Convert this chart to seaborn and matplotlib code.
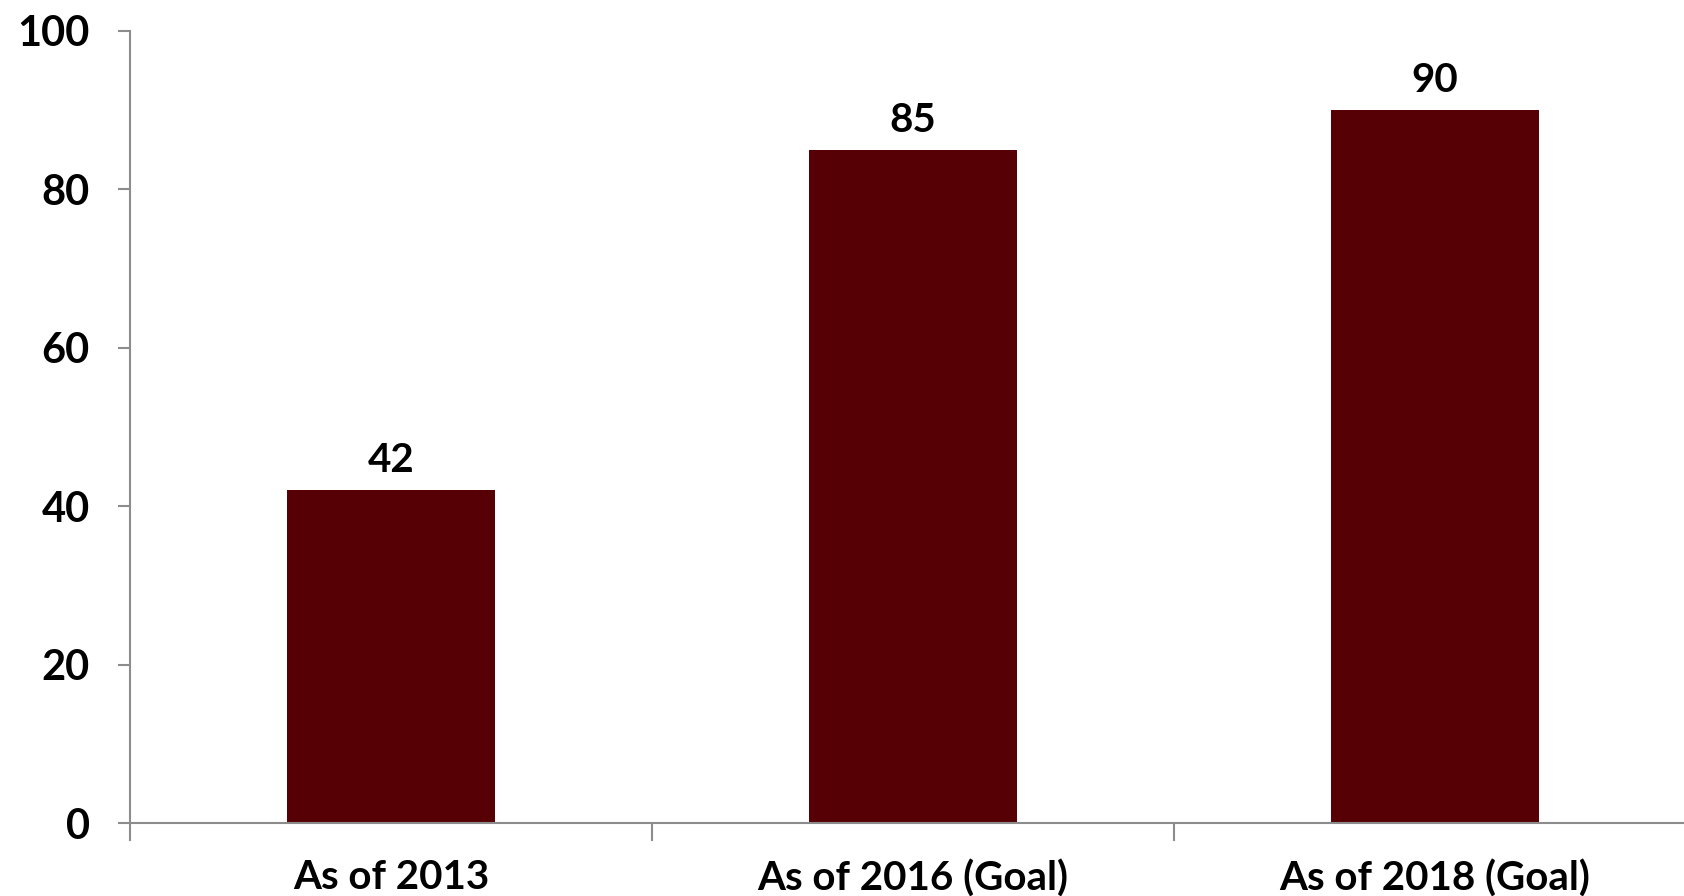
import matplotlib
matplotlib.use("Agg")
import matplotlib.pyplot as plt
import seaborn as sns
import pandas as pd
from matplotlib.ticker import FixedLocator

categories = ["As of 2013", "As of 2016 (Goal)", "As of 2018 (Goal)"]
values = [42, 85, 90]
yticks = [0, 20, 40, 60, 80, 100]

df = pd.DataFrame({"cat": categories, "val": values})

sns.set_theme(style="white")
plt.rcParams["font.family"] = ["Lato", "DejaVu Sans"]
plt.rcParams["text.color"] = "black"
plt.rcParams["xtick.labelcolor"] = "black"
plt.rcParams["ytick.labelcolor"] = "black"

fig = plt.figure(figsize=(16.84, 8.96), dpi=100)
ax = fig.add_axes([130 / 1684, 73 / 896, 1566 / 1684, 792 / 896])

sns.barplot(data=df, x="cat", y="val", color="#560005", saturation=1,
            width=0.4, ax=ax)
for p in ax.patches:
    p.set_edgecolor("none")

ax.set_xlim(-0.5, 2.5)
ax.set_ylim(0, 100)
ax.set_yticks(yticks)
ax.set_xlabel("")
ax.set_ylabel("")

for s in ["top", "right"]:
    ax.spines[s].set_visible(False)
for s in ["left", "bottom"]:
    ax.spines[s].set_color("#8c8c8c")
    ax.spines[s].set_linewidth(1.5)

ax.tick_params(axis="y", which="major", left=True, length=9, width=1.5,
               color="#8c8c8c", pad=20, labelsize=30, labelcolor="black")
for lab in ax.get_yticklabels():
    lab.set_fontweight("bold")

ax.xaxis.set_minor_locator(FixedLocator([-0.5, 0.5, 1.5, 2.5]))
ax.tick_params(axis="x", which="minor", bottom=True, length=13, width=1.5,
               color="#8c8c8c")
ax.tick_params(axis="x", which="major", bottom=False, length=0, pad=26,
               labelsize=29, labelcolor="black")
for lab in ax.get_xticklabels():
    lab.set_fontweight("bold")

for c in ax.containers:
    ax.bar_label(c, labels=[str(v) for v in values], padding=8,
                 fontsize=29, fontweight="bold", color="black")

fig.savefig("out.png", dpi=100)
